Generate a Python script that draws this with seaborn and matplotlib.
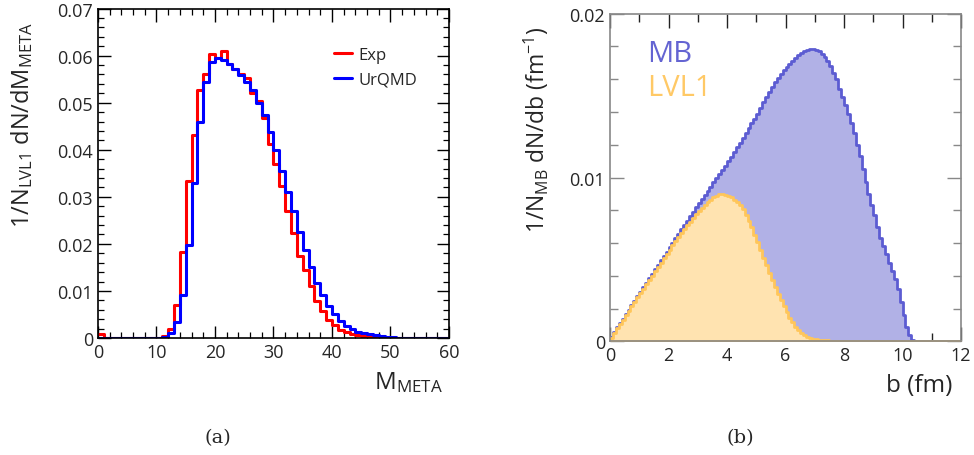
import numpy as np
import pandas as pd
import matplotlib
matplotlib.use("Agg")
import matplotlib.pyplot as plt
from matplotlib.lines import Line2D
from matplotlib.ticker import MultipleLocator, FixedLocator
import seaborn as sns

# ---------------- data ----------------
# (a) multiplicity distribution, 1-unit bins from 0 to 60
meta_edges = list(range(0, 61))
exp_values = [0.0009, 0, 0, 0, 0, 0, 0, 0, 0, 0,
              0.0001, 0.0004, 0.0019, 0.0070, 0.0182, 0.0333, 0.0431, 0.0527, 0.0562, 0.0603,
              0.0596, 0.0610, 0.0582, 0.0571, 0.0560, 0.0552, 0.0520, 0.0504, 0.0468, 0.0412,
              0.0369, 0.0323, 0.0269, 0.0224, 0.0175, 0.0145, 0.0111, 0.0079, 0.0058, 0.0039,
              0.0028, 0.0018, 0.0012, 0.0008, 0.0006, 0.0004, 0.0003, 0.0002, 0.0001, 0.0001,
              0, 0, 0, 0, 0, 0, 0, 0, 0, 0]
urqmd_values = [0, 0, 0, 0, 0, 0, 0, 0, 0, 0,
                0, 0.0002, 0.0010, 0.0035, 0.0092, 0.0197, 0.0329, 0.0458, 0.0544, 0.0587,
                0.0594, 0.0591, 0.0582, 0.0571, 0.0558, 0.0543, 0.0527, 0.0500, 0.0474, 0.0438,
                0.0399, 0.0355, 0.0311, 0.0269, 0.0226, 0.0188, 0.0150, 0.0116, 0.0091, 0.0067,
                0.0051, 0.0037, 0.0026, 0.0019, 0.0013, 0.0010, 0.0008, 0.0006, 0.0004, 0.0003,
                0.0002, 0.0001, 0.0001, 0, 0, 0, 0, 0, 0, 0]

# (b) impact parameter distributions, 0.1 fm bins from 0 to 12 fm (values in units of 1e-3 fm^-1)
b_bin_width = 0.1
mb_values_milli = [0.25, 0.55, 0.85, 1.1, 1.35, 1.65, 1.9, 2.2, 2.45, 2.75,
                   3.0, 3.3, 3.55, 3.85, 4.1, 4.4, 4.65, 4.95, 5.2, 5.45,
                   5.75, 6.0, 6.3, 6.55, 6.85, 7.1, 7.35, 7.65, 7.9, 8.2,
                   8.45, 8.7, 8.95, 9.2, 9.45, 9.7, 9.95, 10.2, 10.45, 10.7,
                   11.0, 11.25, 11.55, 11.85, 12.1, 12.4, 12.7, 13.0, 13.3, 13.6,
                   13.9, 14.25, 14.6, 14.9, 15.2, 15.5, 15.8, 16.05, 16.3, 16.55,
                   16.75, 16.95, 17.1, 17.3, 17.45, 17.6, 17.7, 17.8, 17.85, 17.85,
                   17.8, 17.7, 17.55, 17.35, 17.1, 16.8, 16.4, 16.0, 15.4, 14.9,
                   14.4, 13.9, 13.3, 12.7, 12.0, 11.3, 10.5, 9.7, 9.0, 8.3,
                   7.7, 7.0, 6.3, 5.8, 5.3, 4.8, 4.3, 3.8, 3.2, 2.4,
                   1.6, 0.9, 0.4, 0.1, 0, 0, 0, 0, 0, 0,
                   0, 0, 0, 0, 0, 0, 0, 0, 0, 0]
lvl1_values_milli = [0.2, 0.5, 0.8, 1.05, 1.3, 1.6, 1.85, 2.15, 2.4, 2.7,
                     2.95, 3.2, 3.5, 3.75, 4.0, 4.3, 4.55, 4.8, 5.1, 5.35,
                     5.6, 5.85, 6.1, 6.35, 6.6, 6.85, 7.1, 7.3, 7.55, 7.75,
                     7.95, 8.15, 8.35, 8.5, 8.65, 8.8, 8.9, 8.98, 9.0, 8.95,
                     8.9, 8.8, 8.65, 8.5, 8.3, 8.05, 7.7, 7.35, 6.95, 6.5,
                     6.05, 5.6, 5.1, 4.65, 4.2, 3.75, 3.3, 2.9, 2.5, 2.15,
                     1.8, 1.45, 1.15, 0.9, 0.68, 0.5, 0.38, 0.28, 0.2, 0.15,
                     0.12, 0.1, 0.08, 0.07, 0.06, 0.05, 0.05, 0.04, 0.04, 0.04,
                     0.03, 0.03, 0.03, 0.03, 0.02, 0.02, 0.02, 0.02, 0.02, 0.02,
                     0.02, 0.01, 0.01, 0.01, 0.01, 0.01, 0.01, 0.01, 0.01, 0.01,
                     0, 0, 0, 0, 0, 0, 0, 0, 0, 0,
                     0, 0, 0, 0, 0, 0, 0, 0, 0, 0]

left_xticks = [0, 10, 20, 30, 40, 50, 60]
left_yticks = [0, 0.01, 0.02, 0.03, 0.04, 0.05, 0.06, 0.07]
left_yticklabels = ["0", "0.01", "0.02", "0.03", "0.04", "0.05", "0.06", "0.07"]
right_xticks = [0, 2, 4, 6, 8, 10, 12]
right_yticks = [0, 0.01, 0.02]
right_yticklabels = ["0", "0.01", "0.02"]

# ---------------- style ----------------
sns.set_style("ticks")
plt.rcParams["font.family"] = ["Open Sans", "DejaVu Sans"]
plt.rcParams["mathtext.fontset"] = "custom"
plt.rcParams["mathtext.rm"] = "Open Sans"
plt.rcParams["mathtext.it"] = "Open Sans:italic"
plt.rcParams["mathtext.bf"] = "Open Sans:bold"

fig = plt.figure(figsize=(9.74, 4.56), dpi=100)
axa = fig.add_axes([0.1005, 0.2566, 0.3605, 0.7224])
axb = fig.add_axes([0.6263, 0.2493, 0.3604, 0.7185])

# ---------------- (a) ----------------
meta_centers = [0.5 * (meta_edges[i] + meta_edges[i + 1]) for i in range(len(meta_edges) - 1)]
dfa = pd.DataFrame({"M": meta_centers, "exp": exp_values, "urqmd": urqmd_values})
sns.histplot(data=dfa, x="M", weights="exp", bins=meta_edges, element="step", fill=False,
             color="#ff0000", linewidth=2.2, ax=axa)
sns.histplot(data=dfa, x="M", weights="urqmd", bins=meta_edges, element="step", fill=False,
             color="#0000ff", linewidth=2.2, ax=axa)
axa.set_xlim(0, 60)
axa.set_ylim(0, 0.07)
axa.xaxis.set_major_locator(FixedLocator(left_xticks))
axa.xaxis.set_minor_locator(MultipleLocator(2))
axa.yaxis.set_major_locator(FixedLocator(left_yticks))
axa.set_yticklabels(left_yticklabels)
axa.yaxis.set_minor_locator(MultipleLocator(0.002))
axa.tick_params(which="both", direction="in", top=True, right=True, labelsize=13, color="black")
axa.tick_params(which="major", length=9, width=1.0)
axa.tick_params(which="minor", length=4.5, width=0.9)
for s in axa.spines.values():
    s.set_color("black")
    s.set_linewidth(1.2)
axa.set_xlabel(r"M$_{\mathrm{META}}$", fontsize=17.5, loc="right")
axa.xaxis.set_label_coords(0.983, -0.095)
axa.set_ylabel(r"1/N$_{\mathrm{LVL1}}$ dN/dM$_{\mathrm{META}}$", fontsize=17, loc="top")
axa.yaxis.set_label_coords(-0.178, 0.962)
handles = [Line2D([], [], color="#ff0000", lw=2.2), Line2D([], [], color="#0000ff", lw=2.2)]
axa.legend(handles, ["Exp", "UrQMD"], loc="upper left", bbox_to_anchor=(0.63, 0.93), frameon=False,
           fontsize=12, handlelength=1.1, handletextpad=0.35, labelspacing=0.55)

# ---------------- (b) ----------------
nb = len(mb_values_milli)
b_edges = [round(i * b_bin_width, 1) for i in range(nb + 1)]
b_centers = [0.5 * (b_edges[i] + b_edges[i + 1]) for i in range(nb)]
dfb = pd.DataFrame({"b": b_centers,
                    "mb": np.array(mb_values_milli) * 1e-3,
                    "lvl1": np.array(lvl1_values_milli) * 1e-3})
sns.histplot(data=dfb, x="b", weights="mb", bins=b_edges, element="step", fill=True,
             facecolor="#b1b1e6", edgecolor="#5c5cd2", linewidth=2.0, ax=axb)
sns.histplot(data=dfb, x="b", weights="lvl1", bins=b_edges, element="step", fill=True,
             facecolor="#ffe3b0", edgecolor="#ffc65a", linewidth=2.0, ax=axb)
axb.set_xlim(0, 12)
axb.set_ylim(0, 0.02)
axb.xaxis.set_major_locator(FixedLocator(right_xticks))
axb.xaxis.set_minor_locator(MultipleLocator(1))
axb.yaxis.set_major_locator(FixedLocator(right_yticks))
axb.set_yticklabels(right_yticklabels)
axb.yaxis.set_minor_locator(MultipleLocator(0.002))
axb.tick_params(which="both", direction="in", top=True, right=True, labelsize=13)
axb.tick_params(axis="y", which="both", color="#888888")
axb.tick_params(axis="x", which="both", color="#222222")
axb.tick_params(which="major", length=10, width=1.0)
axb.tick_params(which="minor", length=6, width=1.0)
for s in axb.spines.values():
    s.set_color("#888888")
    s.set_linewidth(1.2)
axb.set_xlabel("b (fm)", fontsize=17.5, loc="right")
axb.xaxis.set_label_coords(0.975, -0.098)
axb.set_ylabel(r"1/N$_{\mathrm{MB}}$ dN/db (fm$^{\mathrm{-1}}$)", fontsize=16.5, loc="top")
axb.yaxis.set_label_coords(-0.168, 0.965)
axb.text(0.105, 0.878, "MB", transform=axb.transAxes, fontsize=21, color="#6464d2",
         ha="left", va="center")
axb.text(0.105, 0.775, "LVL1", transform=axb.transAxes, fontsize=21, color="#ffc966",
         ha="left", va="center")

# captions
fig.text(218 / 974, 1 - 438 / 456, "(a)", fontsize=14, family="DejaVu Serif", ha="center", va="center")
fig.text(740 / 974, 1 - 438 / 456, "(b)", fontsize=14, family="DejaVu Serif", ha="center", va="center")

fig.savefig("out.png", dpi=100)
